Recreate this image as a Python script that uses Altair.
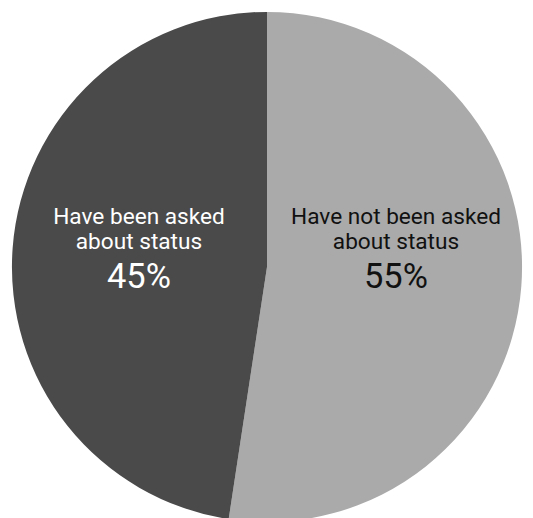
import altair as alt
import pandas as pd

categories = ["Have not been asked about status", "Have been asked about status"]
shares = [52.4, 47.6]
pct_labels = ["55%", "45%"]
colors = ["#aaaaaa", "#4a4a4a"]

df = pd.DataFrame({"category": categories, "share": shares, "order": [0, 1]})

W, H = 525, 510
CX, CY, R = 263, 259, 259

pie = alt.Chart(df).mark_arc(radius=R, stroke=None).encode(
    theta=alt.Theta("share:Q", stack=True),
    order=alt.Order("order:Q"),
    color=alt.Color("category:N", scale=alt.Scale(domain=categories, range=colors), legend=None),
    x=alt.value(CX),
    y=alt.value(CY),
)

lab_df = pd.DataFrame({"t": ["x"]})

def text_layer(txt, x, y, size, color):
    return alt.Chart(lab_df).mark_text(
        text=txt, font="Roboto", fontSize=size, color=color, align="center",
        baseline="alphabetic", lineBreak="\n", lineHeight=26,
    ).encode(x=alt.value(x), y=alt.value(y))

layers = [
    pie,
    text_layer("Have been asked\nabout status", 133, 215, 23, "white"),
    text_layer(pct_labels[1], 133, 280, 35, "white"),
    text_layer("Have not been asked\nabout status", 394, 215, 23, "#111111"),
    text_layer(pct_labels[0], 394, 280, 35, "#111111"),
]

chart = alt.layer(*layers).properties(
    width=W, height=H, padding=0, autosize=alt.AutoSizeParams(type="none")
).configure_view(stroke=None)

chart.save("out.html", embed_options={"renderer": "svg", "actions": False})
